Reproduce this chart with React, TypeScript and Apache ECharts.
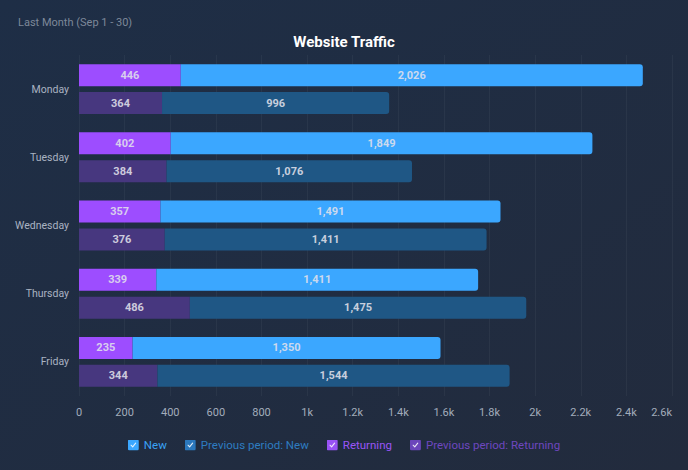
import React, { useEffect, useRef } from "react";
import * as echarts from "echarts";

const days = ["Monday", "Tuesday", "Wednesday", "Thursday", "Friday"];
const newVisits = [2026, 1849, 1491, 1411, 1350];
const returningVisits = [446, 402, 357, 339, 235];
const prevNewVisits = [996, 1076, 1411, 1475, 1544];
const prevReturningVisits = [364, 384, 376, 486, 344];
const legendNames = ["New", "Previous period: New", "Returning", "Previous period: Returning"];

const C_NEW = "#3ba7ff";
const C_PNEW = "#1f5785";
const C_RET = "#9d4dff";
const C_PRET = "#47377f";

function checkIcon(color: string) {
  const svg = `<svg xmlns='http://www.w3.org/2000/svg' width='24' height='24' viewBox='0 0 24 24'><rect x='0' y='0' width='24' height='24' rx='4' ry='4' fill='${color}'/><path d='M7 12.5 L10.5 16 L17 8' stroke='rgba(255,255,255,0.85)' stroke-width='2.4' fill='none' stroke-linecap='round' stroke-linejoin='round'/></svg>`;
  return "image://data:image/svg+xml;charset=utf-8," + encodeURIComponent(svg);
}

const fmt = (v: number) => v.toLocaleString("en-US");

export default function App() {
  const ref = useRef<HTMLDivElement>(null);
  useEffect(() => {
    if (!ref.current) return;
    const chart = echarts.init(ref.current, null, { renderer: "svg" });
    const label = {
      show: true,
      position: "inside" as const,
      color: "rgba(225,225,235,0.88)",
      fontWeight: "bold" as const,
      fontSize: 11,
      fontFamily: "Roboto",
      formatter: (p: any) => fmt(p.value),
    };
    chart.setOption({
      animation: false,
      backgroundColor: {
        type: "linear",
        x: 0,
        y: 0,
        x2: 1,
        y2: 1,
        colorStops: [
          { offset: 0, color: "#1e2e46" },
          { offset: 1, color: "#222b3d" },
        ],
      },
      textStyle: { fontFamily: "Roboto" },
      title: [
        {
          text: "Last Month (Sep 1 - 30)",
          left: 18,
          top: 17,
          padding: 0,
          textStyle: { color: "#7d8899", fontSize: 11, fontWeight: "normal", fontFamily: "Roboto" },
        },
        {
          text: "Website Traffic",
          left: "center",
          top: 34,
          padding: 0,
          textStyle: { color: "#ffffff", fontSize: 15, fontWeight: "bold", fontFamily: "Roboto" },
        },
      ],
      legend: {
        bottom: 19,
        left: "center",
        padding: 0,
        itemGap: 18,
        itemWidth: 11,
        itemHeight: 11,
        data: [
          { name: legendNames[0], icon: checkIcon("#3ba7ff"), textStyle: { color: "#3aa2f5" } },
          { name: legendNames[1], icon: checkIcon("#2b78bd"), textStyle: { color: "#2e7cc0" } },
          { name: legendNames[2], icon: checkIcon("#9852f5"), textStyle: { color: "#9a55f7" } },
          { name: legendNames[3], icon: checkIcon("#6b45bb"), textStyle: { color: "#6e47bf" } },
        ],
        textStyle: { fontSize: 11.5, fontFamily: "Roboto" },
      },
      grid: { left: 79, right: 16, top: 55, bottom: 74, containLabel: false },
      xAxis: {
        type: "value",
        min: 0,
        max: 2600,
        interval: 200,
        axisLine: { show: false },
        axisTick: { show: false },
        splitLine: { lineStyle: { color: "rgba(255,255,255,0.045)" } },
        axisLabel: {
          color: "#a3acbb",
          fontSize: 11,
          margin: 11,
          alignMaxLabel: "right",
          formatter: (v: number) => (v >= 1000 ? v / 1000 + "k" : String(v)),
        },
      },
      yAxis: {
        type: "category",
        data: days,
        inverse: true,
        axisLine: { show: false },
        axisTick: { show: false },
        axisLabel: { color: "#aab3c2", fontSize: 10.5, margin: 10 },
      },
      series: [
        {
          name: legendNames[2],
          type: "bar",
          stack: "cur",
          barWidth: 22,
          barGap: "27%",
          data: returningVisits,
          itemStyle: { color: C_RET },
          label,
        },
        {
          name: legendNames[0],
          type: "bar",
          stack: "cur",
          barWidth: 22,
          barGap: "27%",
          data: newVisits,
          itemStyle: { color: C_NEW, borderRadius: [0, 3, 3, 0] },
          label,
        },
        {
          name: legendNames[3],
          type: "bar",
          stack: "prev",
          barWidth: 22,
          barGap: "27%",
          data: prevReturningVisits,
          itemStyle: { color: C_PRET },
          label,
        },
        {
          name: legendNames[1],
          type: "bar",
          stack: "prev",
          barWidth: 22,
          barGap: "27%",
          data: prevNewVisits,
          itemStyle: { color: C_PNEW, borderRadius: [0, 3, 3, 0] },
          label,
        },
      ],
    });
    return () => chart.dispose();
  }, []);
  return (
    <div
      ref={ref}
      style={{ position: "fixed", left: 0, top: 0, width: 688, height: 470 }}
    />
  );
}
